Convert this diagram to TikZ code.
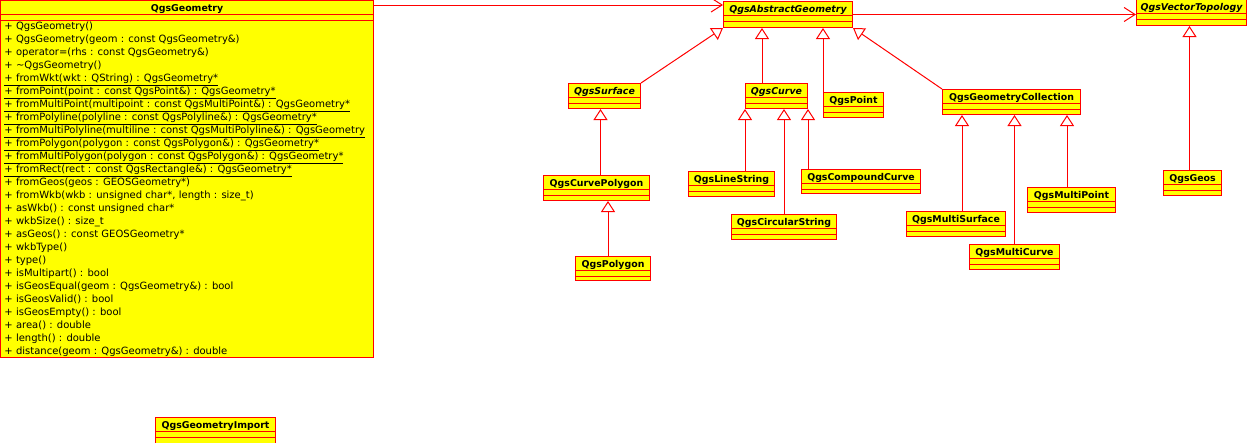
\documentclass[tikz,border=0pt]{standalone}
\usepackage{fontspec}
\setmainfont{DejaVu Sans}
\usetikzlibrary{arrows.meta}
\definecolor{BoxClr}{rgb}{1,1,0}
\definecolor{LineClr}{rgb}{1,0,0}

% one class: name, x, y, width, height, title
\newcommand{\umlclass}[6]{%
  \node[classbox,minimum width=#4,minimum height=#5] (#1) at (#2,#3) {};
  \node[classname] (#1-name) at ([yshift=-11]#1.north) {#6};
  \draw[LineClr] ([yshift=-14]#1.north west) -- ([yshift=-14]#1.north east);
  \draw[LineClr] ([yshift=-20]#1.north west) -- ([yshift=-20]#1.north east);
}

\begin{document}
\begin{tikzpicture}[x=1pt,y=-1pt,line width=1pt,
  classbox/.style={draw=LineClr,fill=BoxClr,anchor=north west,inner sep=0pt},
  classname/.style={anchor=base,inner sep=0pt,font=\bfseries\fontsize{9.4}{11}\selectfont},
  ops/.style={anchor=north west,inner sep=0pt,align=left,font=\fontsize{10}{13}\selectfont},
  gen/.style={draw=LineClr,-{Triangle[length=11pt,width=14pt,fill=white]}},
  assoc/.style={draw=LineClr,-{Straight Barb[length=11pt,width=14pt]}}]
\useasboundingbox (0,0) rectangle (1250,442);

\umlclass{geom}{0}{0}{373}{357}{QgsGeometry}
\node[ops] (geom-ops) at (4,21.5) {+ QgsGeometry()\\
+ QgsGeometry(geom : const QgsGeometry\&)\\
+ operator=(rhs : const QgsGeometry\&)\\
+ \textasciitilde QgsGeometry()\\
\underline{+ fromWkt(wkt : QString) : QgsGeometry*}\\
\underline{+ fromPoint(point : const QgsPoint\&) : QgsGeometry*}\\
\underline{+ fromMultiPoint(multipoint : const QgsMultiPoint\&) : QgsGeometry*}\\
\underline{+ fromPolyline(polyline : const QgsPolyline\&) : QgsGeometry*}\\
\underline{+ fromMultiPolyline(multiline : const QgsMultiPolyline\&) : QgsGeometry}\\
\underline{+ fromPolygon(polygon : const QgsPolygon\&) : QgsGeometry*}\\
\underline{+ fromMultiPolygon(polygon : const QgsPolygon\&) : QgsGeometry*}\\
\underline{+ fromRect(rect : const QgsRectangle\&) : QgsGeometry*}\\
+ fromGeos(geos : GEOSGeometry*)\\
+ fromWkb(wkb : unsigned char*, length : size\_t)\\
+ asWkb() : const unsigned char*\\
+ wkbSize() : size\_t\\
+ asGeos() : const GEOSGeometry*\\
+ wkbType()\\
+ type()\\
+ isMultipart() : bool\\
+ isGeosEqual(geom : QgsGeometry\&) : bool\\
+ isGeosValid() : bool\\
+ isGeosEmpty() : bool\\
+ area() : double\\
+ length() : double\\
+ distance(geom : QgsGeometry\&) : double};

\umlclass{abstract}{723}{1}{129}{26}{\itshape QgsAbstractGeometry}
\umlclass{topo}{1136}{-1}{110}{26}{\itshape QgsVectorTopology}
\umlclass{surface}{568}{83}{72}{25}{\itshape QgsSurface}
\umlclass{curve}{745}{83}{62}{25}{\itshape QgsCurve}
\umlclass{point}{823}{92}{60}{25}{QgsPoint}
\umlclass{collection}{942}{89}{138}{25}{QgsGeometryCollection}
\umlclass{curvepoly}{543}{175}{106}{25}{QgsCurvePolygon}
\umlclass{polygon}{575}{256}{75}{24}{QgsPolygon}
\umlclass{linestring}{688}{171}{86}{25}{QgsLineString}
\umlclass{circular}{731}{214}{105}{25}{QgsCircularString}
\umlclass{compound}{801}{169}{119}{24}{QgsCompoundCurve}
\umlclass{msurface}{906}{211}{99}{25}{QgsMultiSurface}
\umlclass{mcurve}{969}{244}{90}{25}{QgsMultiCurve}
\umlclass{mpoint}{1027}{187}{88}{25}{QgsMultiPoint}
\umlclass{geos}{1163}{170}{58}{25}{QgsGeos}
\umlclass{import}{155}{417}{120}{30}{QgsGeometryImport}

% associations
\draw[assoc] ([yshift=-5]geom.north east) -- ([yshift=-5]geom.north east -| abstract.west);
\draw[assoc] (abstract.east) -- (abstract.east -| topo.west);

% inheritance
\draw[gen] (surface.north east) -- (abstract.south west);
\draw[gen] ([xshift=17]curve.north west) -- ([xshift=17]curve.north west |- abstract.south);
\draw[gen] (point.north west) -- (point.north west |- abstract.south);
\draw[gen] (collection.north west) -- (abstract.south east);
\draw[gen] ([xshift=-3]geos.north) -- ([xshift=-3]geos.north |- topo.south);
\draw[gen] ([xshift=4]curvepoly.north) -- ([xshift=4]curvepoly.north |- surface.south);
\draw[gen] ([xshift=-5]polygon.north) -- ([xshift=-5]polygon.north |- curvepoly.south);
\draw[gen] (curve.south west |- linestring.north) -- (curve.south west);
\draw[gen] (circular.north) -- (circular.north |- curve.south);
\draw[gen] (curve.south east |- compound.north) -- (curve.south east);
\draw[gen] ([xshift=20]collection.south west |- msurface.north) -- ([xshift=20]collection.south west);
\draw[gen] (mcurve.north) -- (mcurve.north |- collection.south);
\draw[gen] ([xshift=-14]collection.south east |- mpoint.north) -- ([xshift=-14]collection.south east);

\end{tikzpicture}
\end{document}
